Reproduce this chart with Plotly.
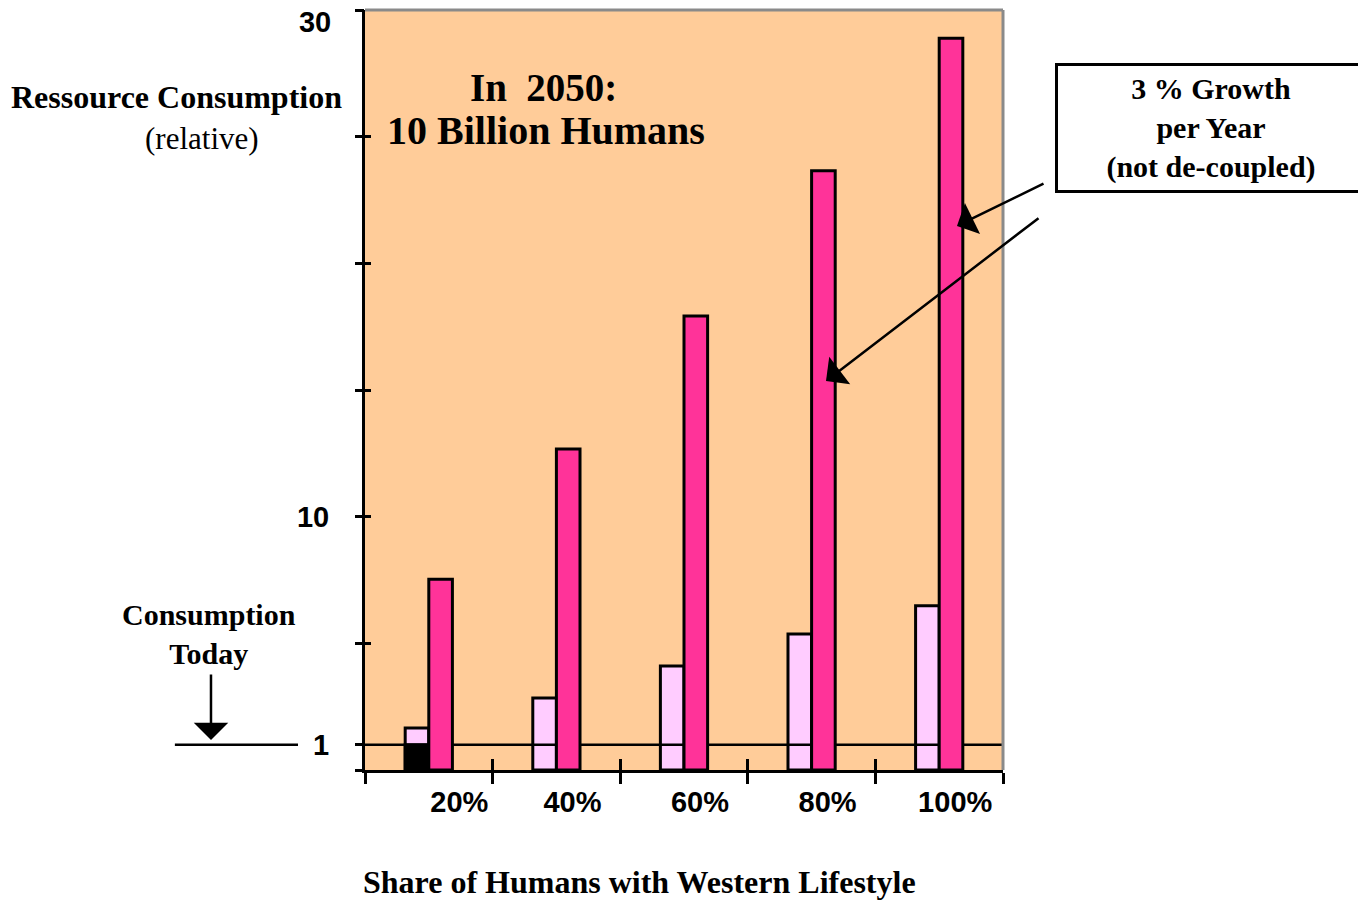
import plotly.graph_objects as go

# Share of humans living a western lifestyle in 2050
categories = ["20%", "40%", "60%", "80%", "100%"]

# Relative resource consumption (today = 1)
consumption_no_growth = [1.66, 2.84, 4.11, 5.37, 6.48]
consumption_growth_3pct = [7.53, 12.67, 17.92, 23.65, 28.88]

# Today's consumption, shown inside the first group
today_category = ["20%"]
today_level = 1.0

# Value axis
y_max = 30
y_tick_values = [0, 1, 5, 10, 15, 20, 25, 30]
y_tick_labels = ["", "1", "", "10", "", "", "", ""]
y_top_label = ["30"]
y_minor_ticks = [0, 5, 10, 15, 20, 25, 30]

PEACH = "#FFCC99"
HOT_PINK = "#FF3399"
LIGHT_PINK = "#FFCCFF"
GREY = "#8A8A8A"
SERIF = "Liberation Serif"
SANS = "Liberation Sans"
BAR_W = 0.185
OUTLINE = dict(color="black", width=3)

n = len(categories)
fig = go.Figure()

# layer 1: consumption without growth, plus today's level
fig.add_trace(go.Bar(
    x=categories, y=consumption_no_growth, width=BAR_W, offset=-BAR_W,
    marker=dict(color=LIGHT_PINK, line=OUTLINE),
    name="without growth", xaxis="x", yaxis="y", hoverinfo="y"))
fig.add_trace(go.Bar(
    x=today_category, y=[today_level], width=BAR_W, offset=-BAR_W,
    marker=dict(color="black", line=OUTLINE),
    name="today", xaxis="x", yaxis="y", hoverinfo="y"))

# layer 2: reference line at today's consumption
fig.add_trace(go.Scatter(
    x=[0, n], y=[today_level, today_level], mode="lines",
    line=dict(color="black", width=2.5), name="consumption today",
    xaxis="x2", yaxis="y2", hoverinfo="skip"))

# layer 3: 3 % growth per year, not de-coupled
fig.add_trace(go.Bar(
    x=categories, y=consumption_growth_3pct, width=BAR_W, offset=0,
    marker=dict(color=HOT_PINK, line=OUTLINE),
    name="3 % growth per year", xaxis="x3", yaxis="y3", hoverinfo="y"))

tick_font = dict(family=SANS, size=29, color="black", weight="bold")

# the first category label sits a little further right than the others
x_tick_text = ["\u2002\u2002" + categories[0]] + categories[1:]

fig.update_layout(
    width=1358, height=900,
    margin=dict(l=365, r=355, t=10, b=130, pad=0, autoexpand=False),
    paper_bgcolor="white", plot_bgcolor=PEACH,
    barmode="overlay", showlegend=False,
    xaxis=dict(
        type="category", categoryorder="array", categoryarray=categories,
        range=[-0.5, n - 0.5], showline=True, linecolor="black", linewidth=3,
        ticks="outside", tickson="boundaries", ticklen=11, tickwidth=3,
        tickcolor="black", ticklabelshift=16, ticklabelstandoff=4,
        tickmode="array", tickvals=categories, ticktext=x_tick_text,
        tickfont=tick_font, showgrid=False, zeroline=False, automargin=False),
    yaxis=dict(
        range=[0, y_max], tickmode="array", tickvals=y_tick_values,
        ticktext=y_tick_labels, ticks="outside", ticklen=7, tickwidth=3,
        tickcolor="black", showline=True, linecolor="black", linewidth=3,
        tickfont=tick_font, ticklabelstandoff=20,
        showgrid=False, zeroline=False, automargin=False),
    xaxis2=dict(
        overlaying="x", anchor="y2", range=[0, n], tickmode="array",
        tickvals=list(range(n + 1)), ticks="inside", ticklen=11, tickwidth=3,
        tickcolor="black", showticklabels=False, showgrid=False,
        zeroline=False, showline=False, automargin=False),
    yaxis2=dict(
        overlaying="y", anchor="x2", range=[0, y_max], tickmode="array",
        tickvals=y_minor_ticks, ticks="inside", ticklen=6, tickwidth=3,
        tickcolor="black", showticklabels=False, showgrid=False,
        zeroline=False, showline=False, automargin=False),
    xaxis3=dict(
        overlaying="x", anchor="y3", type="category", categoryorder="array",
        categoryarray=categories, range=[-0.5, n - 0.5], visible=False),
    yaxis3=dict(
        overlaying="y", anchor="x3", range=[0, y_max], tickmode="array",
        tickvals=[y_max], ticktext=y_top_label, ticks="outside", ticklen=7,
        tickwidth=3, tickcolor="black", ticklabelshift=12,
        ticklabelstandoff=20, ticklabeloverflow="allow", tickfont=tick_font,
        showline=False, showgrid=False, zeroline=False, automargin=False),
)

# grey frame on the top and right of the plot area
fig.add_shape(type="line", xref="paper", yref="paper", x0=0, x1=1, y0=1, y1=1,
              line=dict(color=GREY, width=3), layer="above")
fig.add_shape(type="line", xref="paper", yref="paper", x0=1, x1=1, y0=0, y1=1,
              line=dict(color=GREY, width=3), layer="above")

# "today" marker line left of the value axis
fig.add_shape(type="line", xref="paper", yref="y", x0=-0.298, x1=-0.105,
              y0=today_level, y1=today_level, line=dict(color="black", width=2.5))


def label(text, x, y, size, bold=True, **kw):
    fig.add_annotation(
        text=text, xref="paper", yref="paper", x=x, y=y, showarrow=False,
        xanchor="center", yanchor="middle",
        font=dict(family=SERIF, size=size, color="black",
                  weight="bold" if bold else "normal"), **kw)


label("Ressource Consumption", -0.2947, 0.8855, 32)
label("(relative)", -0.2555, 0.8303, 31, bold=False)
label("In  2050:", 0.279, 0.8974, 39)
label("10 Billion Humans", 0.2837, 0.8421, 40)
label("Consumption<br>Today", -0.2445, 0.1783, 30)
label("Share of Humans with Western Lifestyle", 0.431, -0.1474, 32)

# boxed note on the right
fig.add_annotation(
    text="3 % Growth<br>per Year<br>(not de-coupled)", xref="paper", yref="paper",
    x=1.0815, y=0.9303, xanchor="left", yanchor="top", showarrow=False,
    width=306, height=124, align="center", valign="middle",
    bordercolor="black", borderwidth=3, borderpad=0, bgcolor="white",
    font=dict(family=SERIF, size=30, color="black", weight="bold"))

# arrows
arrow = dict(xref="paper", yref="paper", axref="pixel", ayref="pixel", text="",
             showarrow=True, arrowhead=1, arrowsize=2.3, arrowwidth=2.5,
             arrowcolor="black")
fig.add_annotation(x=-0.2414, y=0.0395, ax=0, ay=-67, **arrow)
fig.add_annotation(x=0.9279, y=0.7158, ax=88, ay=-43, **arrow)
fig.add_annotation(x=0.7226, y=0.5118, ax=214, ay=-164, **arrow)

fig.write_html("out.html")
